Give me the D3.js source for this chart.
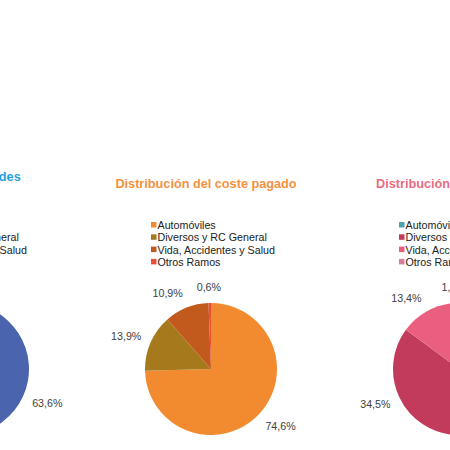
<!DOCTYPE html>
<html>
<head>
<meta charset="utf-8">
<script src="https://cdn.jsdelivr.net/npm/d3@7"></script>
<style>
  body { margin: 0; background: #fff; }
  svg { display: block; }
  text { font-family: "Liberation Sans", Arial, sans-serif; }
</style>
</head>
<body>
<div id="chart"></div>
<script>
// Data (shares in %)
const categories = ["Automóviles", "Diversos y RC General", "Vida, Accidentes y Salud", "Otros Ramos"];
const chartTitles = ["Número de unidades", "Distribución del coste pagado", "Distribución de siniestros"];
const unidadesValues = [63.6, 24.1, 11.2, 1.1];
const costeValues = [74.6, 13.9, 10.9, 0.6];
const siniestrosValues = [50.6, 34.5, 13.4, 1.5];

const config = {
  width: 450,
  height: 450,
  radius: 66,
  centerY: 369,
  labelGap: 10,
  legendTop: 225,
  legendStep: 12.3,
  charts: [
    { values: unidadesValues, titleColor: '#1f9fe0', titleY: 180.5,
      colors: ['#4a64ae', '#2f4a8c', '#7d93cf', '#a9b8e0'] },
    { values: costeValues, titleColor: '#f4913f', titleY: 187.5,
      colors: ['#f28b30', '#a67a1c', '#c25a1e', '#ec4f38'] },
    { values: siniestrosValues, titleColor: '#eb6b80', titleY: 187.5,
      colors: ['#4aa3ae', '#c23b5c', '#ea5f80', '#d3809a'] }
  ]
};

const svg = d3.select('#chart').append('svg')
    .attr('width', config.width)
    .attr('height', config.height);

// horizontal position of each pie
const xChart = d3.scaleLinear().domain([0, 2]).range([-37, 459]);

const pie = d3.pie().sort(null).value(d => d);
const arc = d3.arc().innerRadius(0).outerRadius(config.radius);
const fmt = v => d3.format('.1f')(v).replace('.', ',') + '%';

config.charts.forEach((chart, ci) => {
  const cx = xChart(ci);
  const g = svg.append('g');

  // Title
  g.append('text')
      .attr('x', cx - 5)
      .attr('y', chart.titleY)
      .attr('text-anchor', 'middle')
      .attr('font-size', '12.7px')
      .attr('font-weight', 'bold')
      .attr('fill', chart.titleColor)
      .text(chartTitles[ci]);

  // Legend
  const legend = g.append('g')
      .attr('transform', `translate(${cx - 60},${config.legendTop})`);
  const rows = legend.selectAll('.legend-row')
    .data(categories)
    .enter().append('g')
      .attr('class', 'legend-row')
      .attr('transform', (d, i) => `translate(0,${i * config.legendStep})`);
  rows.append('rect')
      .attr('x', 0)
      .attr('y', -3)
      .attr('width', 5.5)
      .attr('height', 5.5)
      .attr('fill', (d, i) => chart.colors[i]);
  rows.append('text')
      .attr('x', 6.5)
      .attr('y', 3.9)
      .attr('font-size', '10.7px')
      .attr('fill', '#222')
      .text(d => d);

  // Pie
  const pg = g.append('g')
      .attr('transform', `translate(${cx},${config.centerY})`);
  const slices = pie(chart.values);
  pg.selectAll('path')
    .data(slices)
    .enter().append('path')
      .attr('d', arc)
      .attr('fill', (d, i) => chart.colors[i]);

  // Labels: "outside end" — box pushed out from the slice mid-angle
  const rl = config.radius + config.labelGap;
  pg.selectAll('.pie-label')
    .data(slices)
    .enter().append('text')
      .attr('class', 'pie-label')
      .attr('font-size', '10.7px')
      .attr('fill', '#404040')
      .attr('text-anchor', 'middle')
      .attr('dy', '0.36em')
      .text(d => fmt(d.data))
      .each(function(d) {
        const a = (d.startAngle + d.endAngle) / 2;
        const dx = Math.sin(a), dy = -Math.cos(a);
        const w = this.getComputedTextLength();
        const h = 11;
        const sx = Math.max(-1, Math.min(1, dx * 3));
        d3.select(this)
            .attr('x', dx * rl + sx * w / 2)
            .attr('y', dy * rl + dy * h / 2);
      });
});
</script>
</body>
</html>
